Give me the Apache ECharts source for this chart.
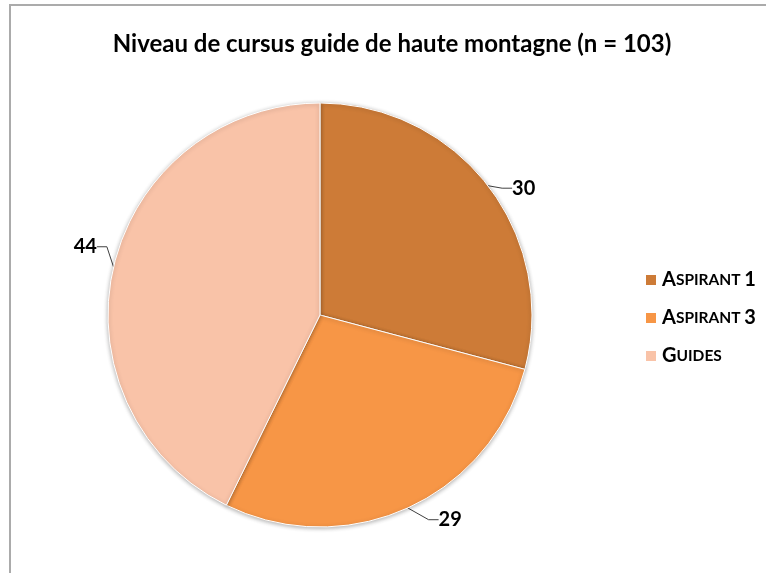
<!DOCTYPE html>
<html>
<head>
<meta charset="utf-8">
<title>Niveau de cursus guide de haute montagne</title>
<script src="https://cdn.jsdelivr.net/npm/echarts@6/dist/echarts.min.js"></script>
<style>
  html, body { margin: 0; padding: 0; background: #fff; }
  #chart { width: 766px; height: 573px; }
</style>
</head>
<body>
<div id="chart"></div>
<script>
// donnees
var categories = ['Aspirant 1', 'Aspirant 3', 'Guides'];
var values = [30, 29, 44];
var colors = ['#CD7B37', '#F79646', '#F9C3A8'];

var pieData = [];
for (var i = 0; i < categories.length; i++) {
  pieData.push({ name: categories[i], value: values[i], itemStyle: { color: colors[i] } });
}

// petites capitales a la main: premiere lettre et chiffres en grand
function smallCaps(name) {
  var out = '';
  var first = true;
  for (var k = 0; k < name.length; k++) {
    var c = name[k];
    if (c === ' ') { out += '{s| }'; continue; }
    if (first || /[0-9]/.test(c)) {
      out += '{b|' + c + '}';
    } else {
      out += '{s|' + c.toUpperCase() + '}';
    }
    first = false;
  }
  return out;
}

// decalage des etiquettes comme dans Excel
var labelShift = [[-5, 11], [7, -1], [15, -17]];

var chart = echarts.init(document.getElementById('chart'));
chart.setOption({
  backgroundColor: '#fff',
  animation: false,
  title: {
    text: 'Niveau de cursus guide de haute montagne (n = 103)',
    left: 387,
    top: 27,
    textAlign: 'center',
    textStyle: { fontFamily: 'Lato', fontWeight: 'bold', fontSize: 24, color: '#000' }
  },
  graphic: [{
    type: 'rect',
    shape: { x: 10, y: 5, width: 780, height: 600 },
    style: { fill: 'none', stroke: '#ababab', lineWidth: 2 },
    silent: true,
    z: -1
  }],
  legend: {
    orient: 'vertical',
    left: 639,
    top: 265,
    itemWidth: 12,
    itemHeight: 12,
    itemGap: 18,
    icon: 'rect',
    data: categories,
    formatter: function (name) { return smallCaps(name); },
    textStyle: {
      fontFamily: 'Lato',
      fontWeight: 'bold',
      color: '#000',
      rich: {
        b: { fontFamily: 'Lato', fontWeight: 'bold', fontSize: 20, color: '#000' },
        s: { fontFamily: 'Lato', fontWeight: 'bold', fontSize: 15.5, color: '#000' }
      }
    }
  },
  series: [{
    type: 'pie',
    center: [320, 315],
    radius: 212,
    startAngle: 90,
    clockwise: true,
    data: pieData,
    itemStyle: {
      borderColor: '#fff',
      borderWidth: 1,
      shadowColor: 'rgba(0,0,0,0.3)',
      shadowBlur: 4,
      shadowOffsetY: 1
    },
    label: {
      show: true,
      formatter: '{c}',
      fontFamily: 'Lato',
      fontWeight: 'bold',
      fontSize: 20,
      color: '#000',
      padding: [0, 4],
      distanceToLabelLine: 0
    },
    labelLine: {
      show: true,
      length: 14,
      length2: 10,
      lineStyle: { color: '#404040', width: 1 }
    },
    labelLayout: function (p) {
      var s = labelShift[p.dataIndex];
      var r = p.labelRect;
      var x = p.align === 'right' ? r.x + r.width : (p.align === 'center' ? r.x + r.width / 2 : r.x);
      return { x: x + s[0], y: r.y + r.height / 2 + s[1] };
    }
  }]
});
</script>
</body>
</html>
